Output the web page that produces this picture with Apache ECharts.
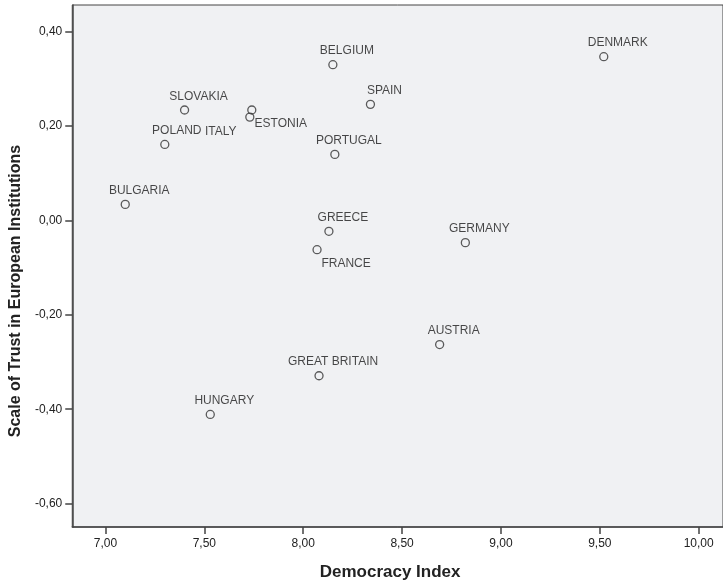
<!DOCTYPE html>
<html>
<head>
<meta charset="utf-8">
<script src="https://cdn.jsdelivr.net/npm/echarts@6/dist/echarts.min.js"></script>
<style>
  html, body { margin: 0; padding: 0; background: #fff; }
  #main { width: 723px; height: 586px; }
</style>
</head>
<body>
<div id="main"></div>
<script>
var countries = ["DENMARK", "BELGIUM", "SPAIN", "SLOVAKIA", "ITALY", "ESTONIA", "POLAND",
  "PORTUGAL", "BULGARIA", "GREECE", "GERMANY", "FRANCE", "AUSTRIA", "GREAT BRITAIN", "HUNGARY"];
var democracy = [9.52, 8.15, 8.34, 7.40, 7.74, 7.73, 7.30, 8.16, 7.10, 8.13, 8.82, 8.07, 8.69, 8.08, 7.53];
var trust = [0.347, 0.330, 0.246, 0.234, 0.234, 0.219, 0.161, 0.140, 0.034, -0.023, -0.047, -0.062, -0.263, -0.329, -0.411];
var xTicks = [7.0, 7.5, 8.0, 8.5, 9.0, 9.5, 10.0];
var yTicks = [-0.6, -0.4, -0.2, 0.0, 0.2, 0.4];

// label placement tweaks where SPSS moved labels around to avoid overlap
var labelOffset = {
  ESTONIA: [31, 22],
  FRANCE: [29, 30],
  ITALY: [-31, 37],
  POLAND: [12, 2]
};

var myChart = echarts.init(document.getElementById("main"));

var points = countries.map(function (name, i) {
  return { name: name, value: [democracy[i], trust[i]] };
});

function fmt(v) {
  return v.toFixed(2).replace(".", ",");
}

var axisColor = "#444";
var font = "'Liberation Sans', Arial, sans-serif";

option = {
  backgroundColor: "#fff",
  animation: false,
  grid: {
    left: 70,
    top: 5,
    right: -2,
    bottom: 58,
    show: true,
    backgroundColor: "#f0f1f3",
    borderColor: axisColor,
    borderWidth: 1
  },
  xAxis: {
    type: "value",
    min: 6.832,
    max: 10.123,
    name: "Democracy Index",
    nameLocation: "middle",
    nameGap: 37,
    nameTextStyle: {
      fontFamily: font,
      fontSize: 17,
      fontWeight: "bold",
      color: "#222",
      padding: [0, 15, 0, 0]
    },
    axisLine: { onZero: false, lineStyle: { color: axisColor, width: 1.5 } },
    axisTick: {
      show: true,
      length: 7,
      customValues: xTicks,
      lineStyle: { color: axisColor, width: 1.5 }
    },
    axisLabel: {
      customValues: xTicks,
      margin: 11,
      fontFamily: font,
      fontSize: 12,
      color: "#222",
      formatter: fmt
    },
    splitLine: { show: false }
  },
  yAxis: {
    type: "value",
    min: -0.6495,
    max: 0.4565,
    name: "Scale of Trust in European Institutions",
    nameLocation: "middle",
    nameGap: 47,
    nameTextStyle: {
      fontFamily: font,
      fontSize: 16,
      fontWeight: "bold",
      color: "#222",
      padding: [0, 50, 0, 0]
    },
    axisLine: { onZero: false, lineStyle: { color: axisColor, width: 1.5 } },
    axisTick: {
      show: true,
      length: 7,
      customValues: yTicks,
      lineStyle: { color: axisColor, width: 1.5 }
    },
    axisLabel: {
      customValues: yTicks,
      margin: 10,
      fontFamily: font,
      fontSize: 12,
      color: "#222",
      formatter: fmt
    },
    splitLine: { show: false }
  },
  series: [
    {
      type: "scatter",
      symbol: "circle",
      symbolSize: 8,
      itemStyle: {
        color: "rgba(0,0,0,0)",
        borderColor: "#333",
        borderWidth: 1.3
      },
      label: {
        show: true,
        position: "top",
        distance: 5,
        formatter: "{b}",
        fontFamily: font,
        fontSize: 12,
        color: "#1a1a1a"
      },
      labelLayout: function (params) {
        var off = labelOffset[countries[params.dataIndex]] || [14, 2];
        return { dx: off[0], dy: off[1], hideOverlap: false };
      },
      data: points
    }
  ]
};
myChart.setOption(option);
</script>
</body>
</html>
